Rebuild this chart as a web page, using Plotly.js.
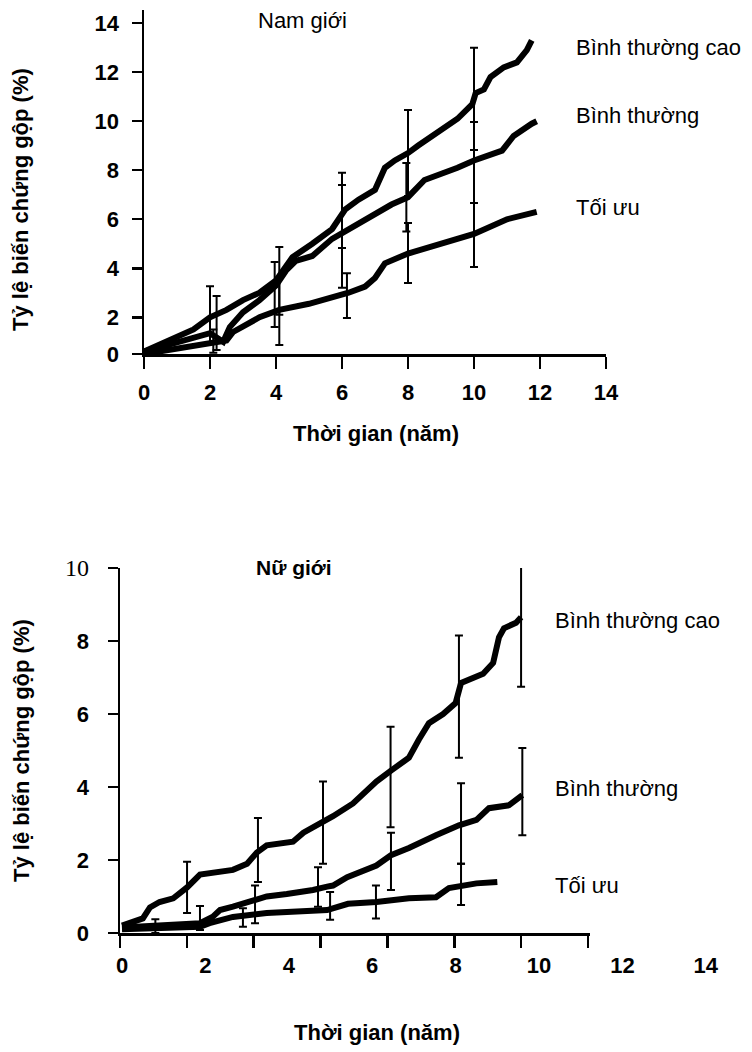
<!DOCTYPE html>
<html>
<head>
<meta charset="utf-8">
<script src="https://cdn.plot.ly/plotly-3.0.1.min.js"></script>
<style>html,body{margin:0;padding:0;background:#fff;}#chart{width:752px;height:1052px;}</style>
</head>
<body>
<div id="chart"></div>
<script>
// ---------- Top panel: Nam giới ----------
const topX_HN = [0,0.5,1,1.5,2,2.5,3,3.5,4,4.5,5.1,5.7,6.1,6.5,7,7.3,7.6,8,8.3,9,9.5,9.95,10.05,10.3,10.5,10.9,11.3,11.6,11.75];
const topY_HN = [0.6,0.9,1.2,1.5,2.0,2.3,2.7,3.0,3.5,4.45,5.0,5.6,6.4,6.8,7.2,8.1,8.4,8.7,9.0,9.6,10.1,10.7,11.15,11.3,11.8,12.2,12.4,12.9,13.3];
const topX_N = [0,0.5,1,1.5,2,2.4,2.6,3,3.5,4,4.3,4.6,5.1,5.7,6.1,6.5,7,7.5,8,8.5,9.5,10,10.85,11.2,11.75,11.9];
const topY_N = [0.6,0.8,1.0,1.2,1.35,1.0,1.6,2.2,2.7,3.3,3.9,4.3,4.5,5.2,5.5,5.8,6.2,6.6,6.9,7.6,8.1,8.4,8.8,9.4,9.9,10.0];
const topX_O = [0,1,2,2.5,2.7,3,3.5,4.1,5,6.2,6.7,7,7.3,8,9,10,11,11.9];
const topY_O = [0.5,0.7,0.9,1.05,1.4,1.6,2.0,2.3,2.55,3.0,3.25,3.6,4.2,4.6,5.0,5.4,6.0,6.3];

const topErrX_HN = [2,4.1,6,8,10];
const topErrMid_HN = [2.0,3.5,6.35,8.7,10.9];
const topErrLow_HN = [0.95,2.1,4.83,6.95,8.83];
const topErrHigh_HN = [3.27,4.87,7.9,10.46,13.0];
const topErrX_N = [2.2,3.96,6.0,7.95,10];
const topErrMid_N = [1.3,3.3,5.4,6.9,8.4];
const topErrLow_N = [0.66,1.6,3.2,5.5,6.66];
const topErrHigh_N = [2.87,4.25,7.4,8.3,9.97];
const topErrX_O = [2.1,4.1,6.15,8.0,10];
const topErrMid_O = [0.9,2.3,3.0,4.6,5.4];
const topErrLow_O = [0.55,0.87,1.97,3.4,4.05];
const topErrHigh_O = [1.5,3.6,3.8,5.85,6.66];

const topXTicks = [0,2,4,6,8,10,12,14];
const topXTickText = ['0','2','4','6','8','10','12','14'];
const topYTickVals = [0.5,2,4,6,8,10,12,14];
const topYTickText = ['0','2','4','6','8','10','12','14'];

// ---------- Bottom panel: Nữ giới ----------
const botX_HN = [0,0.5,0.67,0.9,1.23,1.56,1.87,2.35,2.66,3.0,3.23,3.47,4.1,4.35,4.75,5.06,5.54,6.1,6.45,6.88,7.12,7.36,7.7,8.0,8.13,8.66,8.9,9.04,9.16,9.45,9.57];
const botY_HN = [0.2,0.4,0.7,0.85,0.95,1.25,1.6,1.67,1.73,1.9,2.2,2.4,2.5,2.75,3.0,3.2,3.55,4.15,4.45,4.8,5.3,5.75,6.0,6.3,6.85,7.1,7.4,8.1,8.35,8.5,8.65];
const botX_N = [0,1.0,1.87,2.18,2.35,2.66,3.0,3.23,3.47,3.95,4.27,4.58,4.92,5.06,5.4,6.1,6.45,6.88,7.53,8.08,8.5,8.8,9.28,9.6];
const botY_N = [0.15,0.2,0.27,0.45,0.63,0.72,0.85,0.95,1.0,1.07,1.12,1.18,1.27,1.3,1.53,1.85,2.13,2.33,2.68,2.95,3.1,3.42,3.5,3.78];
const botX_O = [0,1.0,1.87,2.1,2.66,3.47,4.27,4.92,5.42,6.1,6.88,7.53,7.84,8.18,8.5,9.0];
const botY_O = [0.1,0.15,0.17,0.27,0.44,0.55,0.58,0.63,0.8,0.85,0.95,0.98,1.23,1.3,1.36,1.4];

const botErrX_HN = [1.56,3.26,4.82,6.44,8.08,9.57];
const botErrMid_HN = [1.25,2.2,3.0,4.45,6.5,8.65];
const botErrLow_HN = [0.55,1.4,1.9,2.9,4.8,6.75];
const botErrHigh_HN = [1.95,3.15,4.15,5.65,8.15,10.6];
const botErrX_N = [1.87,3.19,4.7,6.45,8.13,9.6];
const botErrMid_N = [0.27,0.95,1.25,2.13,2.95,3.78];
const botErrLow_N = [0.08,0.27,0.72,1.18,1.9,2.68];
const botErrHigh_N = [0.74,1.3,1.8,2.75,4.1,5.07];
const botErrX_O = [0.8,2.9,4.99,6.09,8.13];
const botErrMid_O = [0.15,0.44,0.63,0.85,1.3];
const botErrLow_O = [0.0,0.17,0.36,0.4,0.77];
const botErrHigh_O = [0.38,0.68,1.12,1.3,1.9];

const botXLabelTicks = [0,2,4,6,8,10,12,14];
const botXLabelText = ['0','2','4','6','8','10','12','14'];
const botXMarkTicks = [0,2,4,6,8,10,12,14];
const botYTickVals = [0,2,4,6,8,10];
const botYTickText = ['0','2','4','6','8','10'];

const seriesLabels = ['Bình thường cao','Bình thường','Tối ưu'];

// ---------- build ----------
const SANS = 'Liberation Sans, Arial, sans-serif';
const bold = arr => arr.map(t => '<b>' + t + '</b>');
function curve(x, y, xa, ya) {
  return {x: x, y: y, xaxis: xa, yaxis: ya, mode: 'lines', type: 'scatter',
    line: {color: '#000', width: 6}, showlegend: false, hoverinfo: 'skip'};
}
function errs(x, mid, lo, hi, xa, ya) {
  return {x: x, y: mid, xaxis: xa, yaxis: ya, mode: 'markers', type: 'scatter',
    marker: {size: 1, color: 'rgba(0,0,0,0)'}, showlegend: false, hoverinfo: 'skip',
    error_y: {type: 'data', symmetric: false,
      array: hi.map((v, i) => v - mid[i]),
      arrayminus: mid.map((v, i) => v - lo[i]),
      color: '#000', thickness: 2, width: 4}};
}

const data = [
  errs(topErrX_HN, topErrMid_HN, topErrLow_HN, topErrHigh_HN, 'x', 'y'),
  errs(topErrX_N, topErrMid_N, topErrLow_N, topErrHigh_N, 'x', 'y'),
  errs(topErrX_O, topErrMid_O, topErrLow_O, topErrHigh_O, 'x', 'y'),
  curve(topX_HN, topY_HN, 'x', 'y'),
  curve(topX_N, topY_N, 'x', 'y'),
  curve(topX_O, topY_O, 'x', 'y'),
  errs(botErrX_HN, botErrMid_HN, botErrLow_HN, botErrHigh_HN, 'x3', 'y3'),
  errs(botErrX_N, botErrMid_N, botErrLow_N, botErrHigh_N, 'x3', 'y3'),
  errs(botErrX_O, botErrMid_O, botErrLow_O, botErrHigh_O, 'x3', 'y3'),
  curve(botX_HN, botY_HN, 'x3', 'y3'),
  curve(botX_N, botY_N, 'x3', 'y3'),
  curve(botX_O, botY_O, 'x3', 'y3'),
  {x: [], y: [], xaxis: 'x4', yaxis: 'y3', type: 'scatter', mode: 'lines', showlegend: false}
];

const W = 752, H = 1052;
const px = v => v / W;
const py = v => 1 - v / H;
const tickFont = {family: SANS, size: 22, color: '#000'};

// bottom y labels: "10" is set in a serif face in the original
const botYText = bold(botYTickText);
botYText[5] = '<span style="font-family:\'Liberation Serif\',serif;font-size:24px">' + botYTickText[5] + '</span>';

const layout = {
  width: W, height: H,
  margin: {l: 0, r: 0, t: 0, b: 0},
  paper_bgcolor: '#fff', plot_bgcolor: 'rgba(0,0,0,0)',
  showlegend: false,
  xaxis: {domain: [px(144), px(606)], range: [0, 14], anchor: 'y',
    tickmode: 'array', tickvals: topXTicks, ticktext: bold(topXTickText),
    ticks: 'outside', ticklen: 12, tickwidth: 2.5,
    tickcolor: '#000', showline: true, linecolor: '#000', linewidth: 2.5,
    showgrid: false, zeroline: false, tickfont: tickFont, ticklabelstandoff: 5},
  yaxis: {domain: [py(354), py(10)], range: [0.5, 14.54], anchor: 'x',
    tickmode: 'array', tickvals: topYTickVals, ticktext: bold(topYTickText),
    ticks: 'outside', ticklen: 10, tickwidth: 2.5, tickcolor: '#000',
    showline: true, linecolor: '#000', linewidth: 2.5,
    showgrid: false, zeroline: false, tickfont: tickFont, ticklabelstandoff: 8},
  xaxis3: {domain: [px(120), px(730)], range: [-0.048, 14.58], anchor: 'y3',
    tickmode: 'array', tickvals: botXLabelTicks, ticktext: bold(botXLabelText),
    ticks: '', showline: false,
    showgrid: false, zeroline: false, tickfont: tickFont, ticklabelstandoff: 17},
  xaxis4: {domain: [px(120), px(590)], range: [0, 14.06], anchor: 'y3',
    tickmode: 'array', tickvals: botXMarkTicks, ticks: 'outside', ticklen: 12, tickwidth: 2.5,
    tickcolor: '#000', showticklabels: false, showline: true, linecolor: '#000', linewidth: 2.5,
    showgrid: false, zeroline: false},
  yaxis3: {domain: [py(933), py(568)], range: [0, 10], anchor: 'x4',
    tickmode: 'array', tickvals: botYTickVals, ticktext: botYText,
    ticks: 'outside', ticklen: 10, tickwidth: 2.5, tickcolor: '#000',
    showline: true, linecolor: '#000', linewidth: 2.5,
    showgrid: false, zeroline: false, tickfont: tickFont, ticklabelstandoff: 14},
  annotations: [
    {text: 'Nam giới', x: px(302), y: py(20)},
    {text: '<b>Nữ giới</b>', x: px(294), y: py(567), size: 21},
    {text: seriesLabels[0], x: px(574), y: py(48), xanchor: 'left'},
    {text: seriesLabels[1], x: px(574), y: py(115), xanchor: 'left'},
    {text: seriesLabels[2], x: px(574), y: py(207), xanchor: 'left'},
    {text: seriesLabels[0], x: px(553), y: py(620), xanchor: 'left'},
    {text: seriesLabels[1], x: px(553), y: py(788), xanchor: 'left'},
    {text: seriesLabels[2], x: px(553), y: py(885), xanchor: 'left'},
    {text: '<b>Thời gian (năm)</b>', x: px(376), y: py(433)},
    {text: '<b>Thời gian (năm)</b>', x: px(377), y: py(1032)},
    {text: '<b>Tỷ lệ biến chứng gộp (%)</b>', x: px(21), y: py(200), textangle: -90},
    {text: '<b>Tỷ lệ biến chứng gộp (%)</b>', x: px(21), y: py(751), textangle: -90}
  ].map(a => ({
    text: a.text, x: a.x, y: a.y, xref: 'paper', yref: 'paper', showarrow: false,
    xanchor: a.xanchor || 'center', yanchor: 'middle', textangle: a.textangle || 0,
    font: {family: SANS, size: a.size || 22, color: '#000'}
  }))
};

Plotly.newPlot('chart', data, layout, {staticPlot: true, displayModeBar: false});
</script>
</body>
</html>
